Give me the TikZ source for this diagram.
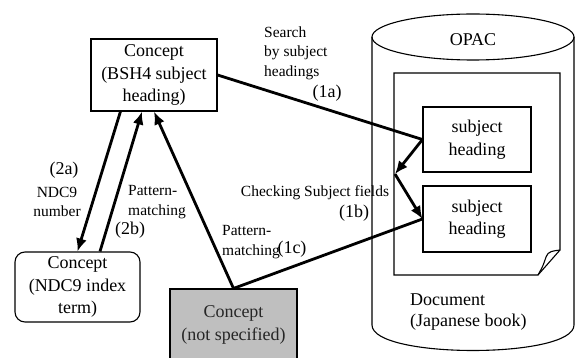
\documentclass[tikz,border=0pt]{standalone}
\usepackage{fontspec}
\setmainfont{Liberation Serif}
\usetikzlibrary{arrows.meta}
\newcommand{\mainsz}{\fontsize{18}{22.5}\selectfont}
\newcommand{\labsz}{\fontsize{15.5}{19.5}\selectfont}
\begin{document}
\begin{tikzpicture}[x=1pt, y=-1pt,
		box/.style={draw, line width=1.1pt, align=center, inner sep=0pt, font=\mainsz},
		lab/.style={font=\labsz, inner sep=0pt},
		num/.style={font=\mainsz, inner sep=0pt},
		link/.style={line width=2.8pt},
		arr/.style={link, -{Latex[length=13pt,width=11pt]}}]
		\useasboundingbox (0,0) rectangle (576,358);

		% OPAC database with the document in it
		\draw[line width=1.1pt] (473,37) ellipse [x radius=101pt, y radius=23pt];
		\draw[line width=1.1pt] (372,37) -- (372,325) .. controls (372,359) and (574,359) .. (574,325) -- (574,37);
		\node[num] (OPAC) at (473,40) {OPAC};
		\draw[line width=1.1pt] (394,73) -- (560,73) -- (560,250) -- (538,275) -- (394,275) -- cycle;
		\draw[line width=1.1pt] (538,275) .. controls (543,266) .. (546,257) .. controls (548,251) and (553,251) .. (560,250);
		\node[num, align=left, anchor=west, font=\fontsize{18}{21}\selectfont] (DOC) at (410,312) {Document\\(Japanese book)};

		\node[box, minimum width=108pt, minimum height=65pt] (SH1) at (477,139.5) {subject\\heading};
		\node[box, minimum width=108pt, minimum height=66pt] (SH2) at (477,219) {subject\\heading};

		% concepts
		\node[box, minimum width=126pt, minimum height=72pt] (BSH) at (154,75) {Concept\\(BSH4 subject\\heading)};
		\node[box, rounded corners=10pt, minimum width=125pt, minimum height=70pt] (NDC) at (77.5,287) {Concept\\(NDC9 index\\term)};
		\node[box, fill=black!25, text=black!85, minimum width=127pt, minimum height=72pt] (NS) at (233.5,325) {Concept\\(not specified)};

		\coordinate (J) at (395,174);

		\path (BSH.east) edge[link] (SH1.west)
		(SH1.west) edge[arr] (J)
		(J) edge[arr] (SH2.west)
		(SH2.west) edge[link] (NS.north)
		(NS.north) edge[arr] (BSH.south)
		([xshift=30pt]BSH.south west) edge[arr] (NDC.north)
		([xshift=22.5pt]NDC.north) edge[arr] ([xshift=-12pt]BSH.south);

		% labels
		\node[lab, align=left, anchor=west] (LA) at (264,53) {Search\\by subject\\headings};
		\node[num] (NA) at (327,93) {(1a)};
		\node[lab] (LB) at (315,193) {Checking Subject fields};
		\node[num] (NB) at (354,213) {(1b)};
		\node[lab, align=left, anchor=west] (LC) at (222,242) {Pattern-\\matching};
		\node[num] (NC) at (292,249) {(1c)};
		\node[num] (N2A) at (64,170) {(2a)};
		\node[lab, align=center] (L2A) at (57,202) {NDC9\\number};
		\node[lab, align=left, anchor=west] (L2B) at (128,202) {Pattern-\\matching};
		\node[num] (N2B) at (130,230) {(2b)};

	\end{tikzpicture}
\end{document}
